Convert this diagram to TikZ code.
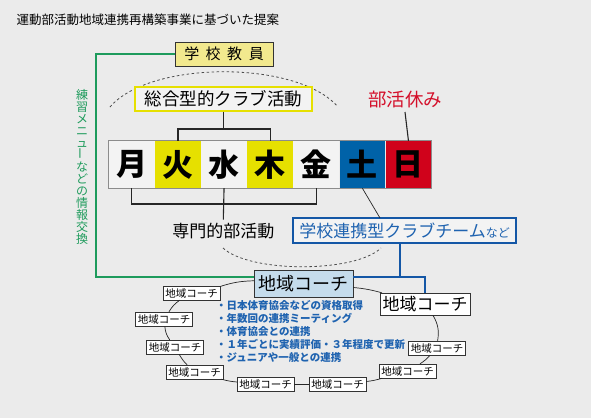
\documentclass[tikz,border=0pt]{standalone}
\usepackage{graphicx}
\usepackage{fontspec}
\setmainfont{Noto Sans CJK JP}
\usetikzlibrary{positioning}
\definecolor{bggray}{HTML}{EBEBEB}
\definecolor{cellgray}{HTML}{F3F3F3}
\definecolor{dayyellow}{HTML}{E6E000}
\definecolor{dayblue}{HTML}{0062A8}
\definecolor{dayred}{HTML}{D0021B}
\definecolor{paleyellow}{HTML}{F2E98E}
\definecolor{paleblue}{HTML}{C5DCEC}
\definecolor{linkgreen}{HTML}{1E9B5C}
\definecolor{linkblue}{HTML}{1457A6}
\definecolor{textblue}{HTML}{1F63B0}
\definecolor{holred}{HTML}{D40F2A}
\newcommand\fsz[1]{\fontsize{#1}{#1}\selectfont}

\begin{document}
\begin{tikzpicture}[x=1pt,y=-1pt,
  box/.style={draw=black!80, fill=cellgray, inner sep=0pt},
  day/.style={minimum width=45.7pt, minimum height=47pt, inner sep=0pt, font=\fsz{31}\bfseries},
  coach/.style={draw=black!80, fill=white, inner sep=0pt, minimum width=57pt, minimum height=14pt, font=\fsz{10.5}},
  link/.style={line width=1.1pt, black!85},
  arcline/.style={black!70, line width=0.8pt, dash pattern=on 2.5pt off 2.5pt},
  greenlink/.style={line width=2pt, linkgreen},
  bluelink/.style={line width=2pt, linkblue}]
  \fill[bggray] (0,0) rectangle (591,418);
  \useasboundingbox (0,0) rectangle (591,418);

  % dashed arcs
  \coordinate (ua) at (110,107);
  \coordinate (ub) at (338,107);
  \coordinate (la) at (223,248);
  \coordinate (lb) at (381,248);
  \draw[arcline] (ua) .. controls (150,60) and (298,60) .. (ub);
  \draw[arcline] (la) .. controls (250,273) and (355,273) .. (lb);

  \node[anchor=west, font=\fsz{12.5}] (title) at (13,20) {運動部活動地域連携再構築事業に基づいた提案};

  \node[box, fill=paleyellow, minimum width=98pt, minimum height=24pt, font=\fsz{15}] (teacher) at (224,54)
    {学\hspace{6.5pt}校\hspace{6.5pt}教\hspace{6.5pt}員};
  \node[draw=dayyellow, line width=1.2pt, fill=cellgray, minimum width=177pt, minimum height=24pt, font=\fsz{17.5}] (sogo) at (223.5,99)
    {総合型的クラブ活動};
  \node[text=holred, font=\fsz{18.5}] (rest) at (405,100) {部活休み};

  % week
  \node[day, fill=cellgray] (mon) at (131.85,164.5) {月};
  \node[day, fill=dayyellow] (tue) [right=0pt of mon] {火};
  \node[day, fill=cellgray] (wed) [right=0pt of tue] {水};
  \node[day, fill=dayyellow] (thu) [right=0pt of wed] {木};
  \node[day, fill=cellgray] (fri) [right=0pt of thu] {金};
  \node[day, fill=dayblue] (sat) [right=0pt of fri] {土};
  \node[day, fill=dayred] (sun) [right=0pt of sat] {日};
  \draw[black!45, line width=0.8pt] (mon.north west) rectangle (sun.south east);

  \node[font=\fsz{17}] (senmon) at (223.3,231) {専門的部活動};
  \node[draw=linkblue, line width=1.2pt, fill=cellgray, minimum width=223pt, minimum height=25pt, text=textblue, font=\fsz{17}] (renkei) at (404.5,230.5)
    {学校連携型クラブチーム{\fsz{12}など}};

  \node[text=linkgreen, align=center, font=\fsz{12}, inner sep=0pt] (info) at (82,166.5)
    {練\\習\\メ\\ニ\\ュ\\\rotatebox{90}{ー}\\な\\ど\\の\\情\\報\\交\\換};

  % coaches
  \node[box, fill=paleblue, minimum width=99pt, minimum height=27pt, font=\fsz{18}] (coachC) at (303.5,283.5) {地域コーチ};
  \node[box, fill=white, minimum width=90pt, minimum height=22pt, font=\fsz{17}] (coachR) at (425,304) {地域コーチ};
  \node[coach] (coach1) at (191.5,293) {地域コーチ};
  \node[coach] (coach2) at (164,319) {地域コーチ};
  \node[coach] (coach3) at (175,347) {地域コーチ};
  \node[coach] (coach4) at (194.5,372) {地域コーチ};
  \node[coach] (coach5) at (265.5,384.5) {地域コーチ};
  \node[coach] (coach6) at (337.5,384.5) {地域コーチ};
  \node[coach] (coach7) at (407.5,371) {地域コーチ};
  \node[coach] (coach8) at (437,348) {地域コーチ};

  \node[anchor=north west, align=left, text=textblue, font=\fsz{10.5}\bfseries, inner sep=0pt] (points) at (216,300)
    {・日本体育協会などの資格取得\\[2.5pt]
     ・年数回の連携ミーティング\\[2.5pt]
     ・体育協会との連携\\[2.5pt]
     ・１年ごとに実績評価・３年程度で更新\\[2.5pt]
     ・ジュニアや一般との連携};

  % connectors
  \coordinate (topbar) at (223.5,129);
  \coordinate (botbar) at (223.5,204);
  \draw[link] (sogo.south) -- (topbar);
  \draw[link] (tue.north) |- (topbar) -| (thu.north);
  \draw[link] (mon.south) |- (botbar) -| (fri.south);
  \draw[link] (wed.south) -- (senmon.north);
  \draw[link] (rest.south) -- (sun.north);
  \coordinate (renkeitop) at (380,218);
  \draw[black!85, line width=0.7pt] (sat.south) -- (renkeitop);

  \coordinate (gcorner) at (96,277);
  \draw[greenlink] (teacher.west) -| (gcorner) -- (coachC.west |- gcorner);
  \coordinate (bj) at (400,277);
  \draw[bluelink] (bj |- renkei.south) -- (bj);
  \draw[bluelink] (coachC.east |- bj) -- (bj) -| (coachR.north);

  \draw[black!85, line width=0.7pt] (coachC) to[bend right=8] (coach1);
  \draw[black!85, line width=0.7pt] (coach1) to[bend right=12] (coach2);
  \draw[black!85, line width=0.7pt] (coach2) to[bend right=15] (coach3);
  \draw[black!85, line width=0.7pt] (coach3) to[bend right=8] (coach4);
  \draw[black!85, line width=0.7pt] (coach4) to[bend right=5] (coach5);
  \draw[black!85, line width=0.7pt] (coach5) -- (coach6);
  \draw[black!85, line width=0.7pt] (coach6) to[bend right=5] (coach7);
  \draw[black!85, line width=0.7pt] (coach7) to[bend right=8] (coach8);
  \draw[black!85, line width=0.7pt] (coach8) to[bend right=20] (coachR);
  \draw[black!85, line width=0.7pt] (coachR) to[bend right=5] (coachC);
\end{tikzpicture}
\end{document}
